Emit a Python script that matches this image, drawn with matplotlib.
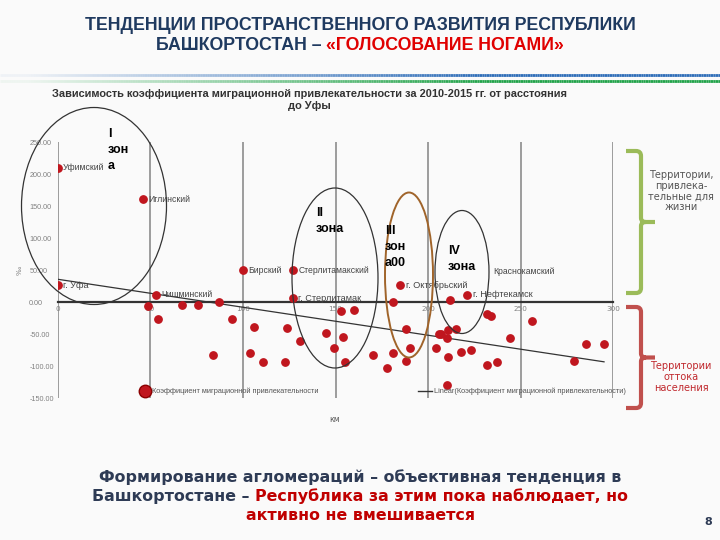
import numpy as np
import matplotlib
matplotlib.use("Agg")
import matplotlib.pyplot as plt
from matplotlib.patches import Ellipse, PathPatch
from matplotlib.path import Path
from matplotlib.lines import Line2D
from matplotlib.collections import LineCollection
from matplotlib.offsetbox import TextArea, HPacker, AnchoredOffsetbox

# districts with labels: distance to Ufa (km), migration attractiveness coefficient
named_x = [0, 0, 46, 53, 100, 127, 127, 185, 221]
named_y = [27, 210, 161, 12, 50, 50, 6, 27, 12]
named_lbl = ["г. Уфа", "Уфимский", "Иглинский", "Чишминский", "Бирский",
             "Стерлитамакский", "г. Стерлитамак", "г. Октябрьский", "г. Нефтекамск"]

# other districts
other_x = [49, 54, 67, 76, 87, 94, 84, 106, 104, 111, 123, 124, 131,
           145, 153, 160, 154, 149, 155, 170, 178, 181, 181, 188, 188, 190,
           204, 206, 207, 211, 210, 215, 212, 211, 210, 218, 223,
           232, 234, 232, 237, 244, 256, 279, 285, 295]
other_y = [-6, -26, -5, -4, 0, -26, -82, -39, -80, -94, -94, -40, -61,
           -48, -14, -12, -54, -71, -94, -82, -103, -80, 0, -41, -91, -71,
           -72, -50, -49, -44, -56, -41, 4, -85, -129, -77, -75,
           -19, -21, -98, -94, -56, -30, -91, -65, -65]

# linear trend (as shown on the chart)
trend_x = [0, 295]
trend_y = [36, -93]

xticks = [0, 50, 100, 150, 200, 250, 300]
yticks = [-150, -100, -50, 0, 50, 100, 150, 200, 250]

W, H = 720, 540
def fx(p): return p / W
def fy(p): return 1 - p / H

red = "#C0161E"
navy = "#1F3A60"
lib = "Liberation Sans"

fig = plt.figure(figsize=(7.2, 5.4), dpi=100, facecolor="#FAFAFA")

# header band
xs = np.linspace(0, 1, 300)
for ypx, col in [(75, "#2E6DB8"), (81, "#22A34A")]:
    segs = [[(xs[i], fy(ypx)), (xs[i + 1], fy(ypx))] for i in range(len(xs) - 1)]
    alphas = np.clip(xs[:-1] * 1.5, 0.05, 1)
    cols = [matplotlib.colors.to_rgba(col, a) for a in alphas]
    fig.add_artist(LineCollection(segs, colors=cols, linewidths=2, transform=fig.transFigure))


def mixed_line(parts, ypx, size, family, weight="bold", xc=0.5):
    boxes = [TextArea(t, textprops=dict(color=c, fontsize=size, family=family, fontweight=weight))
             for t, c in parts]
    pack = HPacker(children=boxes, align="baseline", pad=0, sep=0)
    ab = AnchoredOffsetbox(loc="center", child=pack, frameon=False, pad=0, borderpad=0,
                           bbox_to_anchor=(xc, fy(ypx)), bbox_transform=fig.transFigure)
    fig.add_artist(ab)


fig.text(0.5, fy(25), "ТЕНДЕНЦИИ ПРОСТРАНСТВЕННОГО РАЗВИТИЯ РЕСПУБЛИКИ", ha="center", va="center",
         fontsize=12.8, fontweight="bold", family=lib, color=navy)
mixed_line([("БАШКОРТОСТАН – ", navy), ("«ГОЛОСОВАНИЕ НОГАМИ»", "#E00000")], 46, 12.8, lib)

# chart
ax = fig.add_axes([fx(57.7), fy(398.3), 555.6 / W, 256 / H])
ax.set_facecolor("none")
ax.set_xlim(0, 300)
ax.set_ylim(-150, 250)
ax.set_xticks(xticks)
ax.set_xticklabels([str(v) for v in xticks], family=lib)
ax.set_yticks(yticks)
ax.set_yticklabels(["%.2f" % v for v in yticks], family=lib, ha="left")
ax.grid(axis="x", color="#8C8C8C", lw=1.2)
for s in ["left", "right", "top"]:
    ax.spines[s].set_visible(False)
ax.spines["bottom"].set_position(("data", 0))
ax.spines["bottom"].set_color("#333333")
ax.spines["bottom"].set_linewidth(1.6)
ax.tick_params(axis="both", length=0, labelsize=5.2, labelcolor="#808080")
ax.tick_params(axis="y", pad=20.5)
ax.tick_params(axis="x", pad=3)

ax.plot(trend_x, trend_y, color="#333333", lw=0.9, zorder=3)
ax.scatter(other_x, other_y, s=28, color=red, zorder=4)
ax.scatter(named_x, named_y, s=28, color=red, zorder=4)
for x, y, t in zip(named_x, named_y, named_lbl):
    fs = 6.6 if t.startswith("г.") else 6.2
    ax.annotate(t, (x, y), xytext=(4, 0), textcoords="offset points", va="center",
                fontsize=fs, family=lib, color="#444444", zorder=5)
ax.annotate("Краснокамский", (235, 48), va="center", fontsize=6.2, family=lib, color="#444444")

fig.text(fx(20), fy(270), "‰", rotation=90, fontsize=5, color="#808080", ha="center", va="center")
fig.text(fx(335), fy(420), "км", fontsize=5.5, color="#555555", ha="center", va="center")

fig.text(fx(309), fy(100), "Зависимость коэффициента миграционной привлекательности за 2010-2015 гг. от расстояния\nдо Уфы",
         ha="center", va="center", multialignment="center", fontsize=7.9, fontweight="bold",
         family=lib, color="#333333", linespacing=1.3)

# legend
fig.add_artist(Line2D([fx(145)], [fy(391)], marker="o", ms=9, color=red, mec="#8B0000",
                      transform=fig.transFigure))
fig.text(fx(152), fy(391), "Коэффициент миграционной привлекательности", fontsize=5.3,
         family=lib, color="#555555", va="center")
fig.add_artist(Line2D([fx(418), fx(432)], [fy(391), fy(391)], color="#333333", lw=1,
                      transform=fig.transFigure))
fig.text(fx(434), fy(391), "Linear(Коэффициент миграционной привлекательности)", fontsize=5.3,
         family=lib, color="#555555", va="center")

# zone ellipses
for cx, cy, w, h, col in [(94, 206, 145, 197, "#333333"), (335, 278, 86, 180, "#333333"),
                          (409, 275, 48, 165, "#A0642A"), (462, 272, 54, 123, "#333333")]:
    fig.add_artist(Ellipse((fx(cx), fy(cy)), w / W, h / H, fill=False, ec=col,
                           lw=1.4 if col != "#333333" else 0.9, transform=fig.transFigure))

for xp, yp, t in [(108, 150, "I\nзон\nа"), (316, 221, "II\nзона"),
                  (385, 247, "III\nзон\nа00"), (448, 259, "IV\nзона")]:
    fig.text(fx(xp), fy(yp), t, fontsize=9, fontweight="bold", family=lib, color="black",
             va="center", ha="left", linespacing=1.45)


# brackets
def bracket(top, bot, col):
    mid = (top + bot) / 2
    pts = [(626, top), (636, top), (641, top), (641, top + 5), (641, mid - 4), (641, mid),
           (646, mid), (655, mid), (646, mid), (641, mid), (641, mid + 4), (641, bot - 5),
           (641, bot), (636, bot), (626, bot)]
    codes = [Path.MOVETO, Path.LINETO, Path.CURVE3, Path.CURVE3, Path.LINETO, Path.CURVE3,
             Path.CURVE3, Path.LINETO, Path.MOVETO, Path.CURVE3, Path.CURVE3, Path.LINETO,
             Path.CURVE3, Path.CURVE3, Path.LINETO]
    verts = [(fx(a), fy(b)) for a, b in pts]
    fig.add_artist(PathPatch(Path(verts, codes), fill=False, ec=col, lw=3,
                             transform=fig.transFigure, capstyle="butt"))


bracket(151, 293, "#9BBB59")
bracket(307, 408, "#C0504D")
fig.text(fx(681), fy(191), "Территории,\nпривлека-\nтельные для\nжизни", ha="center", va="center",
         fontsize=7, color="#555555", linespacing=1.1)
fig.text(fx(681), fy(377), "Территории\nоттока\nнаселения", ha="center", va="center",
         fontsize=7, color="#C0282D", linespacing=1.1)

# bottom statement
bfam = "DejaVu Sans"
bcol = "#2E3B55"
bred = "#C00000"
fig.text(0.5, fy(477), "Формирование агломераций – объективная тенденция в", ha="center",
         va="center", fontsize=11.4, fontweight="bold", family=bfam, color=bcol)
mixed_line([("Башкортостане – ", bcol), ("Республика за этим пока наблюдает, но", bred)],
           496, 11.4, bfam)
fig.text(0.5, fy(515), "активно не вмешивается", ha="center", va="center", fontsize=11.4,
         fontweight="bold", family=bfam, color=bred)
fig.text(fx(708), fy(522), "8", ha="center", va="center", fontsize=8, fontweight="bold", color=bcol)

fig.savefig("out.png", dpi=100, facecolor=fig.get_facecolor())
